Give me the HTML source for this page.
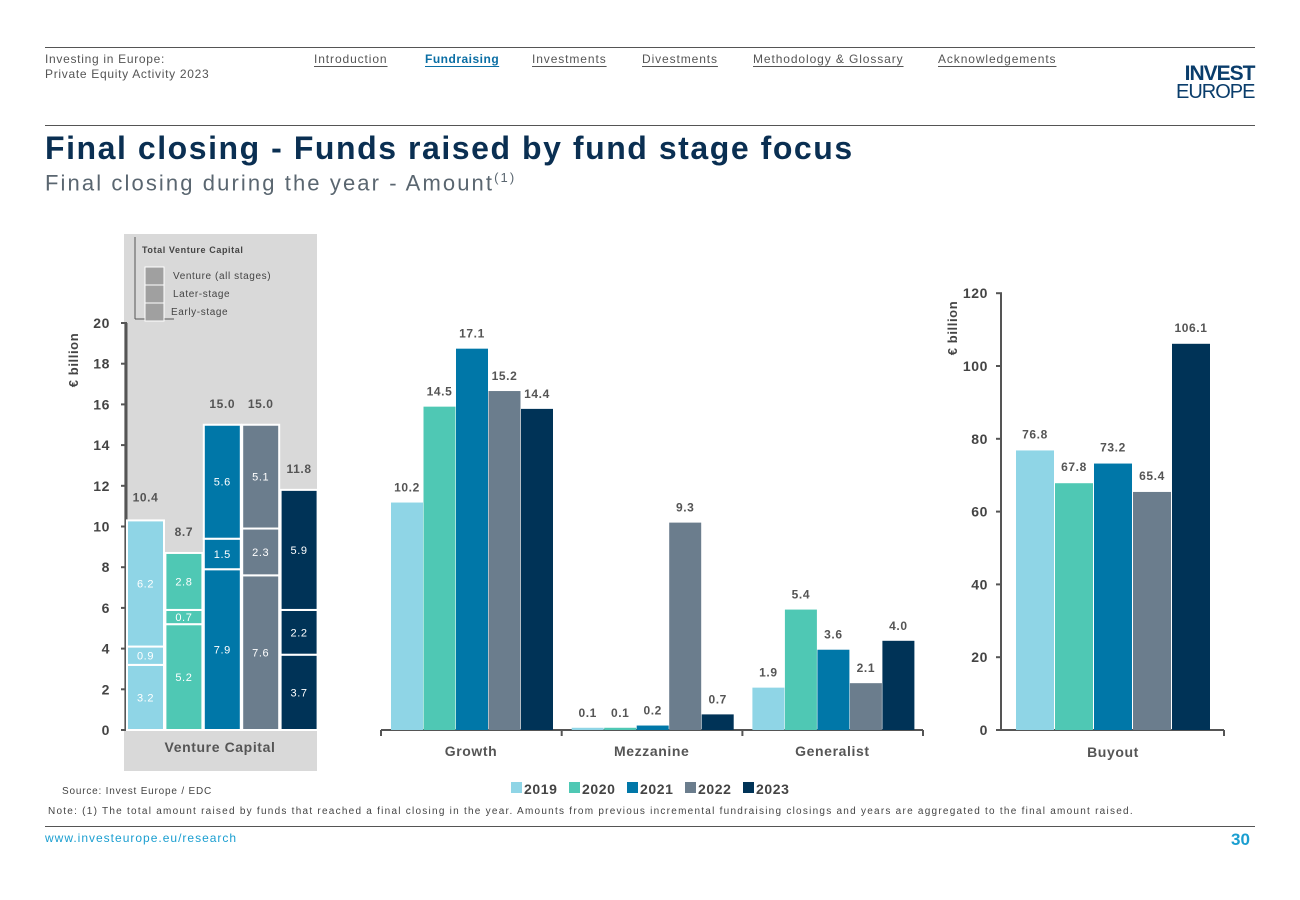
<!DOCTYPE html>
<html><head><meta charset="utf-8">
<style>
body{margin:0;width:1300px;height:900px;background:#fff;font-family:"Liberation Sans",sans-serif;position:relative;overflow:hidden}
.a{position:absolute}
.nav{position:absolute;top:52px;font-size:12px;color:#555;text-decoration:underline;text-underline-offset:3px;letter-spacing:0.9px}
svg text{letter-spacing:0.6px}
</style></head><body>
<div class="a" style="left:45px;top:47px;width:1210px;height:1px;background:#555"></div>
<div class="a" style="left:45px;top:52px;font-size:12px;color:#555;line-height:15px;letter-spacing:0.7px">Investing in Europe:<br>Private Equity Activity 2023</div>
<a class="nav" style="left:314px">Introduction</a>
<a class="nav" style="left:425px;color:#0a6ea4;font-weight:bold;letter-spacing:0.5px">Fundraising</a>
<a class="nav" style="left:532px">Investments</a>
<a class="nav" style="left:642px">Divestments</a>
<a class="nav" style="left:753px">Methodology &amp; Glossary</a>
<a class="nav" style="left:938px">Acknowledgements</a>
<div class="a" style="left:1176px;top:64px;color:#0a3d6b;line-height:19px;text-align:right">
<div style="font-weight:bold;font-size:21px;letter-spacing:-1px">INVEST</div><div style="font-size:20px;letter-spacing:-1px">EUROPE</div></div>
<div class="a" style="left:45px;top:125px;width:1210px;height:1px;background:#555"></div>
<div class="a" style="left:45px;top:130px;font-size:32px;font-weight:bold;color:#0a2f52;letter-spacing:1.55px">Final closing - Funds raised by fund stage focus</div>
<div class="a" style="left:45px;top:170px;font-size:22px;color:#5a6670;letter-spacing:2.1px">Final closing during the year - Amount<sup style="font-size:13px">(1)</sup></div>

<svg class="a" style="left:0;top:0" width="1300" height="900">
<g id="left"></g>
<g id="mid"></g>
<g id="right"></g>
</svg>

<div class="a" style="left:62px;top:786px;font-size:10px;color:#444;letter-spacing:0.8px">Source: Invest Europe / EDC</div>
<div class="a" style="left:48px;top:806px;font-size:10px;color:#444;letter-spacing:1.25px">Note: (1) The total amount raised by funds that reached a final closing in the year. Amounts from previous incremental fundraising closings and years are aggregated to the final amount raised.</div>
<div class="a" style="left:45px;top:826px;width:1210px;height:1px;background:#555"></div>
<a class="a" style="left:45px;top:831px;font-size:12px;color:#1a9ed0;letter-spacing:1px">www.investeurope.eu/research</a>
<div class="a" style="left:1231px;top:830px;font-size:17px;font-weight:bold;color:#1a9ed0">30</div>

<script>
const years=['2019','2020','2021','2022','2023'];
const colors=['#8fd5e6','#4fc8b4','#0077a8','#6b7d8d','#003357'];
const vcEarly=[3.2,5.2,7.9,7.6,3.7];
const vcLater=[0.9,0.7,1.5,2.3,2.2];
const vcAll=[6.2,2.8,5.6,5.1,5.9];
const vcTotal=[10.4,8.7,15.0,15.0,11.8];
const vcTicks=[0,2,4,6,8,10,12,14,16,18,20];
const midCats=['Growth','Mezzanine','Generalist'];
const midVals=[[10.2,14.5,17.1,15.2,14.4],[0.1,0.1,0.2,9.3,0.7],[1.9,5.4,3.6,2.1,4.0]];
const buyoutVals=[76.8,67.8,73.2,65.4,106.1];
const buyTicks=[0,20,40,60,80,100,120];
const NS='http://www.w3.org/2000/svg';
function mk(p,t,a,txt){const e=document.createElementNS(NS,t);for(const k in a)e.setAttribute(k,a[k]);if(txt!==undefined)e.textContent=txt;p.appendChild(e);return e;}
const F='Liberation Sans, sans-serif';
// LEFT
const L=document.getElementById('left');
const yL=v=>730-v*20.35;
let bg=mk(L,'rect',{x:124,y:234,width:193,height:537,fill:'#d9d9d9'});

mk(L,'line',{x1:135,y1:237,x2:135,y2:319,stroke:'#555'});
mk(L,'line',{x1:135,y1:319,x2:174,y2:319,stroke:'#555'});
mk(L,'text',{x:142,y:253,'font-size':9,'font-weight':'bold',fill:'#444','font-family':F},'Total Venture Capital');
['Venture (all stages)','Later-stage','Early-stage'].forEach((t,i)=>{
 const r=mk(L,'rect',{x:145,y:267+i*18,width:19,height:18,fill:'#a0a0a0',stroke:'#fff'});
 
 mk(L,'text',{x:i==2?171:173,y:279+i*18,'font-size':10,fill:'#444','font-family':F},t);
});
vcTicks.forEach(t=>{mk(L,'line',{x1:121,x2:127,y1:yL(t),y2:yL(t),stroke:'#555','stroke-width':2});
 mk(L,'text',{x:110,y:yL(t)+5,'text-anchor':'end','font-size':14,'font-weight':'bold',fill:'#444','font-family':F},t);});
mk(L,'line',{x1:126,y1:yL(20),x2:126,y2:731,stroke:'#555','stroke-width':3});
mk(L,'line',{x1:121,y1:730,x2:317,y2:730,stroke:'#555','stroke-width':2});
mk(L,'text',{x:78,y:360,transform:'rotate(-90 78 360)','text-anchor':'middle','font-size':13,'font-weight':'bold',fill:'#444','font-family':F},'€ billion');
years.forEach((y,i)=>{
 const x=127+i*38.4,w=37;
 let base=0;
 [[vcEarly,'early'],[vcLater,'later'],[vcAll,'all']].forEach(([arr,nm])=>{
  const v=arr[i];const r=mk(L,'rect',{x:x,y:yL(base+v),width:w,height:yL(base)-yL(base+v),fill:colors[i],stroke:'#fff','stroke-width':2});
  
  mk(L,'text',{x:x+w/2,y:(yL(base)+yL(base+v))/2+4,'text-anchor':'middle','font-size':11,fill:'#fff','font-family':F},v.toFixed(1));
  base+=v;});
 mk(L,'text',{x:x+w/2,y:yL(vcTotal[i])-17,'text-anchor':'middle','font-size':12,'font-weight':'bold',fill:'#555','font-family':F},vcTotal[i].toFixed(1));
});
mk(L,'text',{x:220,y:752,'text-anchor':'middle','font-size':14,'font-weight':'bold',fill:'#555','font-family':F},'Venture Capital');
// MID
const M=document.getElementById('mid');
const yM=v=>730-v*22.3;
mk(M,'line',{x1:381,y1:730,x2:923,y2:730,stroke:'#555','stroke-width':2});
midCats.forEach((c,g)=>{
 const gx=381+g*180.7;
 mk(M,'line',{x1:gx,y1:730,x2:gx,y2:736,stroke:'#555','stroke-width':2});
 midVals[g].forEach((v,i)=>{
  const x=gx+10+i*32.5;
  const r=mk(M,'rect',{x:x,y:yM(v),width:32,height:730-yM(v),fill:colors[i]});
  
  mk(M,'text',{x:x+16,y:yM(v)-11,'text-anchor':'middle','font-size':12,'font-weight':'bold',fill:'#555','font-family':F},v.toFixed(1));
 });
 mk(M,'text',{x:gx+90,y:756,'text-anchor':'middle','font-size':14,'font-weight':'bold',fill:'#555','font-family':F},c);
});
mk(M,'line',{x1:923,y1:730,x2:923,y2:736,stroke:'#555','stroke-width':2});
years.forEach((y,i)=>{
 const x=511+i*58;
 const r=mk(M,'rect',{x:x,y:782,width:11,height:11,fill:colors[i]});
 
 mk(M,'text',{x:x+13,y:794,'font-size':14,'font-weight':'bold',fill:'#444','font-family':F},y);
});
// RIGHT
const R=document.getElementById('right');
const yR=v=>730-v*3.64;
buyTicks.forEach(t=>{mk(R,'line',{x1:996,x2:1002,y1:yR(t),y2:yR(t),stroke:'#555','stroke-width':2});
 mk(R,'text',{x:988,y:yR(t)+5,'text-anchor':'end','font-size':14,'font-weight':'bold',fill:'#444','font-family':F},t);});
mk(R,'line',{x1:1001,y1:yR(120),x2:1001,y2:731,stroke:'#555','stroke-width':2});
mk(R,'line',{x1:996,y1:730,x2:1224,y2:730,stroke:'#555','stroke-width':2});
mk(R,'line',{x1:1224,y1:730,x2:1224,y2:736,stroke:'#555','stroke-width':2});
mk(R,'text',{x:957,y:328,transform:'rotate(-90 957 328)','text-anchor':'middle','font-size':13,'font-weight':'bold',fill:'#444','font-family':F},'€ billion');
buyoutVals.forEach((v,i)=>{
 const x=1016+i*39;
 const r=mk(R,'rect',{x:x,y:yR(v),width:38,height:730-yR(v),fill:colors[i]});
 
 mk(R,'text',{x:x+19,y:yR(v)-12,'text-anchor':'middle','font-size':12,'font-weight':'bold',fill:'#555','font-family':F},v.toFixed(1));
});
mk(R,'text',{x:1113,y:757,'text-anchor':'middle','font-size':14,'font-weight':'bold',fill:'#555','font-family':F},'Buyout');
</script>
</body></html>
